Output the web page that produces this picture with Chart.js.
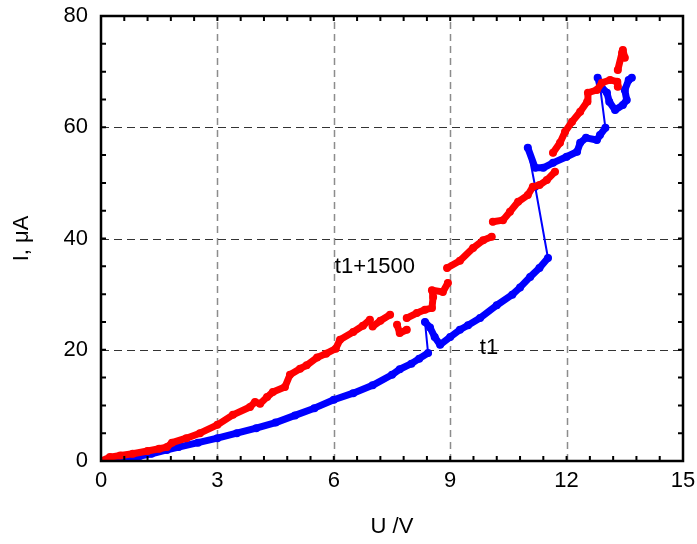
<!DOCTYPE html>
<html>
<head>
<meta charset="utf-8">
<script src="https://cdn.jsdelivr.net/npm/chart.js@4/dist/chart.umd.min.js"></script>
<style>
  body { margin: 0; background: #fff; }
  #wrap { width: 697px; height: 544px; position: relative; }
</style>
</head>
<body>
<div id="wrap"><canvas id="chart"></canvas></div>
<script>
// t1 series (blue)
const blueU = [0.3, 0.6, 0.8, 1.0, 1.3, 1.7, 2.0, 2.5, 3.0, 3.5, 4.0, 4.5, 5.0, 5.5, 6.0, 6.5, 7.0, 7.5, 7.7, 8.0, 8.2, 8.43,
  8.35, 8.48, 8.6, 8.74, 9.0, 9.25, 9.46, 9.77, 10.2, 10.6, 10.8, 11.06, 11.3, 11.52,
  11.19, 11.0, 11.19, 11.4, 11.65, 12.0, 12.27, 12.35, 12.5, 12.78, 12.86, 13.0,
  12.85, 12.8, 12.9, 13.04, 13.1, 13.25, 13.45, 13.55, 13.5, 13.6, 13.68]
const blueI = [0, 0.3, 0.6, 0.9, 1.3, 2.0, 2.5, 3.3, 4.1, 5.0, 5.9, 6.9, 8.2, 9.5, 11.0, 12.2, 13.6, 15.5, 16.5, 17.5, 18.4, 19.4,
  25.0, 24.0, 22.3, 20.9, 22.3, 23.6, 24.4, 25.7, 28.0, 29.9, 31.2, 33.1, 34.7, 36.5,
  49.3, 56.3, 52.7, 52.7, 53.6, 54.7, 55.6, 57.2, 58.1, 57.7, 58.6, 59.9,
  68.0, 68.9, 67.2, 66.2, 64.6, 63.1, 64.0, 64.9, 66.7, 68.5, 68.9]

// t1+1500 series (red); null marks a visible break
const redU = [0, 0.23, 0.5, 0.82, 1.2, 1.5, 1.7, 1.83, 2.2, 2.55, 3.0, 3.4, 3.84, 3.97, 4.1, 4.28, 4.43, 4.74, 4.87,
  5.13, 5.3, 5.57, 5.8, 6.05, 6.16, 6.5, 6.75, 6.93, null,
  7.0, 7.2, 7.45, null, 7.63, 7.7, 7.88, null,
  7.88, 8.14, 8.35, 8.53, 8.56, 8.53, 8.81, 8.94, null,
  8.92, 9.25, 9.59, 9.85, 10.07, null,
  10.1, 10.36, 10.54, 10.75, 11.0, 11.13, 11.3, 11.49, 11.7, null,
  11.65, 11.83, 11.96, 12.14, 12.35, 12.53, 12.55, 12.78, 12.91, 13.12, 13.3, 13.32, null,
  13.32, 13.43, 13.45, 13.5]
const redI = [0, 0.7, 1.0, 1.3, 1.8, 2.2, 2.5, 3.3, 4.1, 5.0, 6.5, 8.3, 9.7, 10.6, 10.3, 11.5, 12.4, 13.3, 15.5,
  16.6, 17.2, 18.6, 19.3, 20.2, 21.8, 23.2, 24.3, 25.4, null,
  24.2, 25.2, 26.3, null, 24.5, 23.0, 23.6, null,
  25.7, 26.6, 27.2, 27.5, 29.5, 30.7, 30.4, 32.0, null,
  34.7, 36.0, 38.3, 39.7, 40.3, null,
  43.0, 43.3, 44.8, 46.6, 47.8, 49.3, 49.6, 50.5, 52.0, null,
  55.4, 57.2, 59.2, 61.0, 62.8, 64.6, 66.2, 66.7, 68.0, 68.5, 68.2, 67.3, null,
  70.3, 73.4, 73.9, 72.5]

const xTicks = [0, 3, 6, 9, 12, 15]
const yTicks = [0, 20, 40, 60, 80]
const labels = [
  { text: 't1+1500', u: 7.06, i: 34.9 },
  { text: 't1', u: 10.0, i: 20.3 },
]

const FONT = 'Liberation Sans, Arial, sans-serif'

const toPoints = (us, is) => us.map((u, k) => ({ x: u, y: is[k] }))

// thick band where points are dense, thin connector across jumps
const segWidth = ctx => {
  const d = Math.hypot(ctx.p1.x - ctx.p0.x, ctx.p1.y - ctx.p0.y)
  return d > 24 ? 2 : 7
}

const framePlugin = {
  id: 'frame',
  beforeDatasetsDraw(chart) {
    const { ctx, chartArea: a, scales: { x, y } } = chart
    ctx.save()
    ctx.lineWidth = 1.5
    ctx.strokeStyle = '#8c8c8c'
    ctx.setLineDash([7, 5])
    xTicks.slice(1, -1).forEach(v => {
      const px = Math.round(x.getPixelForValue(v)) + 0.5
      ctx.beginPath()
      ctx.moveTo(px, a.bottom)
      ctx.lineTo(px, a.top)
      ctx.stroke()
    })
    ctx.lineWidth = 1
    ctx.strokeStyle = '#333'
    ctx.setLineDash([8, 5])
    yTicks.slice(1, -1).forEach(v => {
      const py = Math.round(y.getPixelForValue(v)) + 0.5
      ctx.beginPath()
      ctx.moveTo(a.left, py)
      ctx.lineTo(a.right, py)
      ctx.stroke()
    })
    ctx.restore()
  },
  afterDatasetsDraw(chart) {
    const { ctx, chartArea: a, scales: { x, y } } = chart
    ctx.save()
    ctx.strokeStyle = '#000'
    ctx.lineWidth = 2
    // inward tick marks on all four sides
    for (let k = 1; k < 25; k++) {
      const px = x.getPixelForValue(k * 0.6)
      ctx.beginPath()
      ctx.moveTo(px, a.bottom)
      ctx.lineTo(px, a.bottom - 5)
      ctx.moveTo(px, a.top)
      ctx.lineTo(px, a.top + 5)
      ctx.stroke()
    }
    for (let k = 1; k < 16; k++) {
      const py = y.getPixelForValue(k * 5)
      ctx.beginPath()
      ctx.moveTo(a.left, py)
      ctx.lineTo(a.left + 5, py)
      ctx.moveTo(a.right, py)
      ctx.lineTo(a.right - 5, py)
      ctx.stroke()
    }
    ctx.lineWidth = 2.5
    ctx.strokeRect(a.left, a.top, a.right - a.left, a.bottom - a.top)

    ctx.fillStyle = '#000'
    ctx.font = '22px ' + FONT
    ctx.textAlign = 'center'
    ctx.textBaseline = 'middle'
    labels.forEach(l => {
      ctx.fillText(l.text, x.getPixelForValue(l.u), y.getPixelForValue(l.i))
    })
    ctx.restore()
  },
}

new Chart(document.getElementById('chart'), {
  type: 'scatter',
  data: {
    datasets: [
      {
        label: 't1+1500',
        data: toPoints(redU, redI),
        showLine: true,
        spanGaps: false,
        borderColor: '#ff0000',
        backgroundColor: '#ff0000',
        borderWidth: 7,
        borderCapStyle: 'round',
        borderJoinStyle: 'round',
        pointRadius: 4,
        pointBorderWidth: 0,
      },
      {
        label: 't1',
        data: toPoints(blueU, blueI),
        showLine: true,
        borderColor: '#0000ff',
        backgroundColor: '#0000ff',
        borderWidth: 2,
        borderCapStyle: 'round',
        borderJoinStyle: 'round',
        segment: { borderWidth: segWidth },
        pointRadius: 4,
        pointBorderWidth: 0,
      },
    ],
  },
  options: {
    responsive: true,
    maintainAspectRatio: false,
    animation: false,
    layout: { padding: { left: 0, right: 14, top: 16, bottom: 0 } },
    plugins: { legend: { display: false }, tooltip: { enabled: false } },
    scales: {
      x: {
        type: 'linear',
        min: 0,
        max: 15,
        afterFit: s => { s.height = 83; s.paddingLeft = 0; s.paddingRight = 0 },
        grid: { display: false, drawTicks: false },
        border: { display: false },
        ticks: { stepSize: 3, padding: 7, color: '#000', font: { size: 22, family: FONT } },
        title: { display: true, text: 'U /V', color: '#000', font: { size: 22, family: FONT }, padding: { top: 0, bottom: 4 } },
      },
      y: {
        type: 'linear',
        min: 0,
        max: 80,
        afterFit: s => { s.width = 101; s.paddingTop = 0; s.paddingBottom = 0 },
        grid: { display: false, drawTicks: false },
        border: { display: false },
        ticks: { stepSize: 20, padding: 13, color: '#000', font: { size: 22, family: FONT } },
        title: { display: true, text: 'I, μA', color: '#000', font: { size: 22, family: FONT }, padding: { top: 9, bottom: 0 } },
      },
    },
  },
  plugins: [framePlugin],
})
</script>
</body>
</html>
